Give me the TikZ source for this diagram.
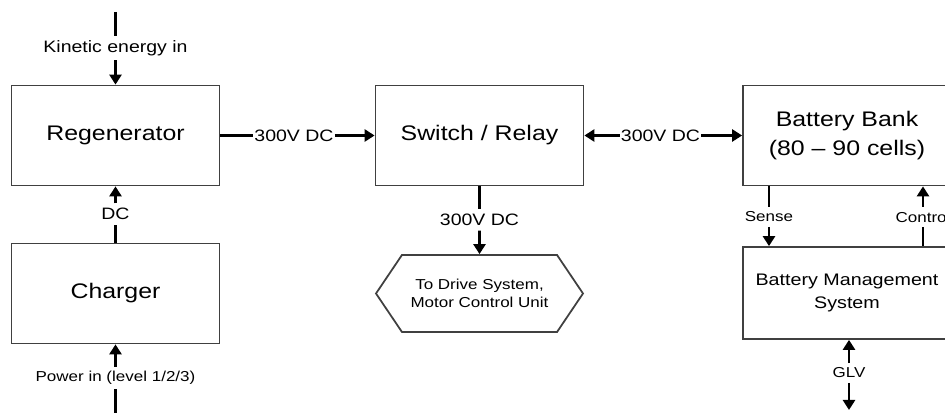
\documentclass[tikz,border=0pt]{standalone}
\usepackage{fontspec}
\setmainfont[FakeStretch=1.18]{Liberation Sans}
\usetikzlibrary{arrows.meta,shapes.symbols}

\begin{document}
\begin{tikzpicture}[
  blk/.style={rectangle,draw=black!75,line width=1pt,minimum width=4.16cm,minimum height=2cm,align=center,font=\fontsize{12}{16.4}\selectfont},
  lbl/.style={inner xsep=0.5pt,inner ysep=2.5pt,font=\fontsize{9.4}{13}\selectfont},
  sml/.style={inner xsep=0.5pt,inner ysep=2.5pt,font=\fontsize{8.2}{10.2}\selectfont},
  wire/.style={line width=1.6pt},
  arr/.style={wire,-{Triangle[width=0.24cm,length=0.2cm]}}
]
\path[use as bounding box,clip] (0,0) rectangle (18.9,8.26);

% blocks
\node[blk] (reg) at (2.31,5.55) {Regenerator};
\node[blk] (chg) at (2.31,2.39) {Charger};
\node[blk] (sw) at (9.59,5.55) {Switch / Relay};
\node[blk] (bb) at (16.94,5.55) {Battery Bank\\(80 -- 90 cells)};
\node[blk,minimum height=1.84cm,font=\fontsize{9.5}{13}\selectfont] (bms) at (16.94,2.4) {Battery Management\\System};
\node[signal,signal to=east and west,signal pointer angle=112,draw=black!75,line width=1pt,minimum width=4.14cm,minimum height=1.54cm,align=center,font=\fontsize{8.2}{10.2}\selectfont] (hex) at (9.59,2.39) {To Drive System,\\Motor Control Unit};

% labels on the lines
\coordinate (kintop) at (2.31,8.02);
\node[lbl] (kin) at (2.31,7.30) {Kinetic energy in};
\node[lbl] (v1) at (5.88,5.55) {300V DC};
\node[lbl] (v2) at (13.21,5.55) {300V DC};
\node[lbl] (v3) at (9.59,3.86) {300V DC};
\node[lbl] (dc) at (2.31,3.98) {DC};
\node[sml] (pwr) at (2.31,0.70) {Power in (level 1/2/3)};
\coordinate (pwrbot) at (2.31,-0.1);
\node[sml] (sense) at (15.38,3.92) {Sense};
\node[sml] (ctrl) at (18.46,3.92) {Control};
\node[sml] (glv) at (16.98,0.80) {GLV};
\coordinate (glvbot) at (16.98,0.06);

% connectors
\draw[wire] (kintop) -- (kin);
\draw[arr] (kin) -- (reg);
\draw[wire] (reg) -- (v1);
\draw[arr] (v1) -- (sw);
\draw[arr] (v2) -- (sw);
\draw[arr] (v2) -- (bb);
\draw[wire] (sw) -- (v3);
\draw[arr] (v3) -- (hex);
\draw[wire] (chg) -- (dc);
\draw[arr] (dc) -- (reg);
\draw[wire] (pwrbot) -- (pwr);
\draw[arr] (pwr) -- (chg);
\draw[wire] (sense |- bb.south) -- (sense);
\draw[arr] (sense) -- (sense |- bms.north);
\draw[wire] (ctrl |- bms.north) -- (ctrl);
\draw[arr] (ctrl) -- (ctrl |- bb.south);
\draw[arr] (glv) -- (glv |- bms.south);
\draw[arr] (glv) -- (glvbot);
\end{tikzpicture}
\end{document}
